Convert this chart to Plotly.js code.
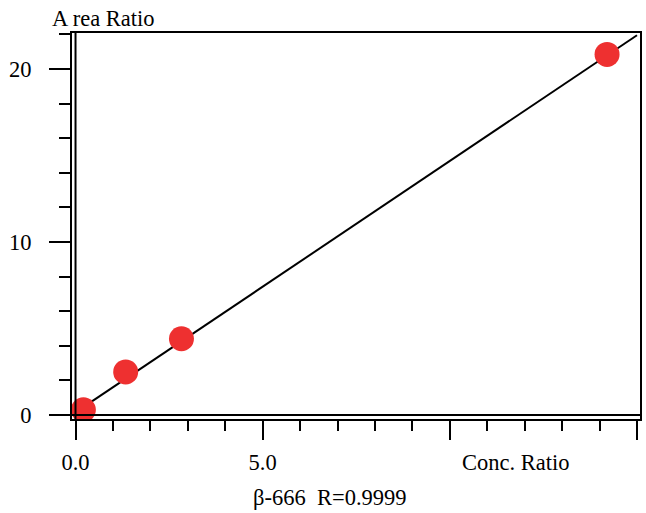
<!DOCTYPE html>
<html>
<head>
<meta charset="utf-8">
<script src="https://cdn.plot.ly/plotly-3.0.1.min.js"></script>
<style>html,body{margin:0;padding:0;background:#fff;}#chart{width:646px;height:513px;}</style>
</head>
<body>
<div id="chart"></div>
<script>
// Calibration points (Conc. Ratio vs Area Ratio)
const concRatio = [0.21, 1.34, 2.83, 14.2];
const areaRatio = [0.30, 2.49, 4.41, 20.84];
// Regression line end points
const fitX = [0, 15];
const fitY = [0.15, 21.95];
// Tick labels
const xTickVals = [0, 5, 10, 15];
const xTickText = ['0.0', '5.0', '', ''];
const yTickVals = [0, 10, 20];
const yTickText = ['0', '10', '20'];
const xTitle = 'Conc. Ratio';
const yTitle = 'A\u2009rea Ratio';
const caption = 'β-666\u00a0\u00a0R=0.9999';

const serif = 'Liberation Serif, Times New Roman, serif';
const fs = 22.5;

const traces = [
  {x: fitX, y: fitY, mode: 'lines', line: {color: '#000', width: 2}, hoverinfo: 'skip', showlegend: false},
  {x: concRatio, y: areaRatio, mode: 'markers', marker: {color: '#EE3030', size: 25}, showlegend: false}
];

const layout = {
  width: 646, height: 513,
  margin: {l: 72, r: 6, t: 33, b: 94},
  paper_bgcolor: '#fff', plot_bgcolor: '#fff',
  font: {family: serif, size: fs, color: '#000'},
  showlegend: false,
  xaxis: {
    range: [-0.094, 15.08], showgrid: false, zeroline: false,
    showline: true, mirror: true, linecolor: '#000', linewidth: 2,
    tickmode: 'array', tickvals: xTickVals, ticktext: xTickText,
    ticks: 'outside', ticklen: 19, tickwidth: 2, tickcolor: '#000',
    ticklabelstandoff: 3,
    minor: {tick0: 0, dtick: 1, ticks: 'outside', ticklen: 10, tickwidth: 2, tickcolor: '#000', showgrid: false},
    tickfont: {family: serif, size: fs}
  },
  yaxis: {
    range: [-0.23, 22.08], showgrid: false, zeroline: false,
    showline: true, mirror: true, linecolor: '#000', linewidth: 2,
    tickmode: 'array', tickvals: yTickVals, ticktext: yTickText,
    ticks: 'outside', ticklen: 21, tickwidth: 2, tickcolor: '#000',
    ticklabelstandoff: 13,
    minor: {tick0: 0, dtick: 2, ticks: 'outside', ticklen: 11, tickwidth: 2, tickcolor: '#000', showgrid: false},
    tickfont: {family: serif, size: fs}
  },
  shapes: [
    {type: 'line', xref: 'x', yref: 'paper', x0: 0, x1: 0, y0: 0, y1: 1, line: {color: '#000', width: 2}},
    {type: 'line', xref: 'paper', yref: 'y', x0: 0, x1: 1, y0: 0, y1: 0, line: {color: '#000', width: 2}}
  ],
  annotations: [
    {text: yTitle, xref: 'paper', yref: 'paper', x: (103 - 72) / 568, y: (419 - 18) / 386, xanchor: 'center', yanchor: 'middle', showarrow: false, font: {family: serif, size: fs}},
    {text: xTitle, xref: 'paper', yref: 'paper', x: (516 - 72) / 568, y: (419 - 462) / 386, xanchor: 'center', yanchor: 'middle', showarrow: false, font: {family: serif, size: fs}},
    {text: caption, xref: 'paper', yref: 'paper', x: (330 - 72) / 568, y: (419 - 497) / 386, xanchor: 'center', yanchor: 'middle', showarrow: false, font: {family: serif, size: fs}}
  ]
};

Plotly.newPlot('chart', traces, layout, {displayModeBar: false, staticPlot: true});
</script>
</body>
</html>
